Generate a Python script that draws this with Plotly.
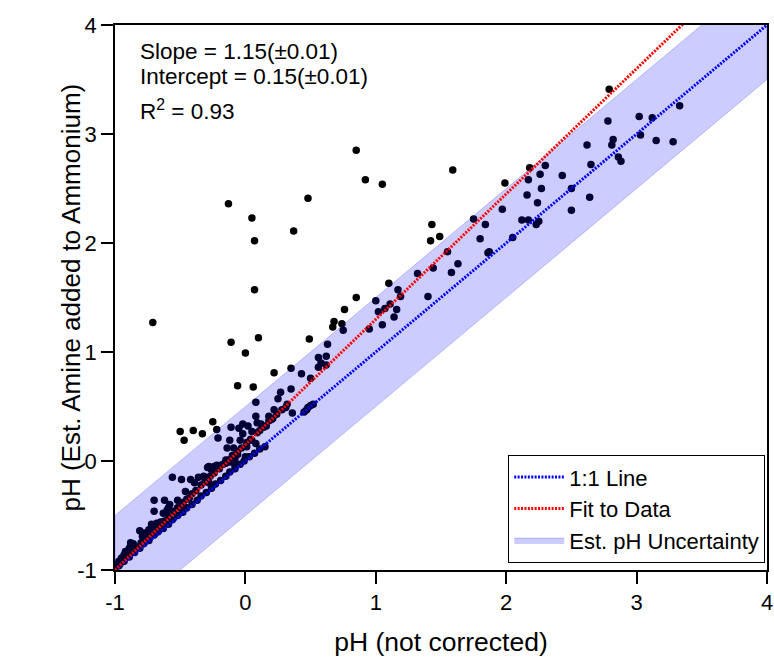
import plotly.graph_objects as go

# ---------------- data ----------------
# outliers and upper scatter
X_UPPER = [-0.71, -0.13, 0.05, 0.07, 0.07, 0.10, 0.48, 0.37, 0.85, 0.92, 1.05, 1.59,
           0.49, -0.11, 0.00, 0.35, 0.22, 0.43, 0.50, -0.06, 0.06, 0.27, 0.35, 0.08,
           0.25, 0.22, 0.36, 0.18, 0.08, 0.12, 0.09, 0.16, 0.18, 0.21, -0.02, -0.11,
           -0.05, 0.02, -0.02, 0.05, 0.09, -0.21, -0.22, -0.25, -0.40, -0.33, -0.47,
           -0.50, -0.12, -0.04, 0.05, 0.08, 0.15, 0.01, -0.09, -0.14, -0.06, 0.00,
           -0.15, -0.12, -0.08, -0.28, -0.24, -0.19, 0.31, 0.47, 0.50, 0.52]
Y_UPPER = [1.27, 2.36, 2.23, 2.02, 1.57, 1.13, 2.41, 2.11, 2.85, 2.58, 2.54, 2.67,
           1.12, 1.09, 0.99, 0.85, 0.81, 0.80, 0.76, 0.69, 0.68, 0.63, 0.66, 0.54,
           0.57, 0.47, 0.44, 0.41, 0.41, 0.34, 0.35, 0.32, 0.37, 0.39, 0.34, 0.31,
           0.30, 0.32, 0.25, 0.27, 0.26, 0.21, 0.29, 0.36, 0.28, 0.25, 0.19,
           0.27, 0.19, 0.19, 0.19, 0.16, 0.13, 0.13, 0.12, 0.12, 0.06, 0.04,
           0.01, -0.01, -0.04, -0.05, -0.05, -0.04, 0.49, 0.47, 0.51, 0.52]

# middle / upper-right cluster
X_MID = [0.56, 0.58, 0.56, 0.62, 0.63, 0.62, 0.67, 0.68, 0.74, 0.75, 0.76, 0.85,
         0.95, 1.00, 1.02, 1.07, 1.11, 1.16, 1.14, 1.05, 1.10, 1.17, 1.19, 1.40,
         1.32, 1.44, 1.58, 1.63, 1.55, 1.86, 1.87, 1.42, 1.49, 1.43, 1.80, 2.05,
         1.75, 1.84, 2.12, 2.17, 2.23, 2.25, 1.97, 2.24, 2.16, 2.27, 2.17, 2.26,
         2.18, 2.30, 1.99, 2.43, 2.50, 2.64, 2.50, 2.65, 2.62, 2.86, 2.88, 2.81,
         2.82, 3.03, 3.15, 3.28, 3.02, 3.12, 3.33, 2.78, 2.79]
Y_MID = [0.86, 0.90, 0.95, 0.96, 1.07, 0.88, 1.23, 1.28, 1.26, 1.20, 1.39, 1.50,
         1.21, 1.47, 1.37, 1.40, 1.44, 1.39, 1.32, 1.25, 1.63, 1.57, 1.51, 1.51,
         1.72, 1.77, 1.73, 1.81, 1.92, 1.91, 1.92, 2.02, 2.06, 2.17, 2.04, 2.05,
         2.22, 2.17, 2.21, 2.21, 2.17, 2.20, 2.31, 2.37, 2.44, 2.50, 2.58, 2.63,
         2.69, 2.71, 2.55, 2.62, 2.50, 2.42, 2.30, 2.72, 2.90, 2.79, 2.75, 2.90,
         2.95, 2.99, 2.94, 2.93, 3.16, 3.15, 3.26, 3.12, 3.41]

# lower-left cluster above the lines
X_LOW = [-0.56, -0.49, -0.42, -0.39, -0.36, -0.32, -0.30, -0.28, -0.29, -0.26, -0.22,
         -0.15, -0.08, -0.46, -0.43, -0.52, -0.50, -0.47, -0.70, -0.62, -0.70, -0.63,
         -0.59, -0.60, -0.58, -0.65, -0.68, -0.72, -0.74, -0.81, -0.77, -0.79, -0.86,
         -0.88, -0.89, -0.88, -0.92, -0.93, -0.95, -0.97, -0.98, -1.00]
Y_LOW = [-0.15, -0.17, -0.17, -0.20, -0.15, -0.14, -0.17, -0.20, -0.06, -0.08, -0.04,
         -0.02, 0.02, -0.28, -0.34, -0.36, -0.40, -0.42, -0.36, -0.36, -0.46, -0.48,
         -0.43, -0.45, -0.40, -0.56, -0.57, -0.58, -0.63, -0.64, -0.66, -0.69, -0.76,
         -0.77, -0.80, -0.75, -0.83, -0.86, -0.89, -0.92, -0.95, -0.99]

# points lying along the fitted line
X_ALONG_FIT = [-0.96, -0.91, -0.87, -0.83, -0.80, -0.76, -0.73, -0.69, -0.66, -0.62,
               -0.59, -0.55, -0.52, -0.48, -0.45, -0.41, -0.38, -0.34, -0.31, -0.27,
               -0.24, -0.20, -0.17, -0.13, -0.10, -0.06, -0.03, 0.01, 0.04, 0.11,
               0.14, 0.20, 0.24, 0.28, 0.32]
Y_ALONG_FIT = [-0.94, -0.88, -0.83, -0.79, -0.75, -0.71, -0.67, -0.62, -0.59, -0.55,
               -0.51, -0.46, -0.43, -0.38, -0.35, -0.30, -0.27, -0.22, -0.19, -0.14,
               -0.11, -0.07, -0.03, 0.01, 0.05, 0.09, 0.12, 0.17, 0.20, 0.28,
               0.31, 0.38, 0.43, 0.47, 0.52]

# points lying along the 1:1 line
X_ALONG_ONE = [-0.97, -0.93, -0.89, -0.85, -0.81, -0.78, -0.74, -0.70, -0.67, -0.63,
               -0.59, -0.56, -0.52, -0.48, -0.45, -0.41, -0.37, -0.34, -0.30, -0.26,
               -0.23, -0.19, -0.15, -0.12, -0.08, -0.04, -0.01, 0.03, 0.07, 0.11,
               0.45, 0.48]
Y_ALONG_ONE = [-0.96, -0.92, -0.88, -0.84, -0.80, -0.76, -0.73, -0.68, -0.65, -0.62,
               -0.58, -0.54, -0.50, -0.47, -0.43, -0.40, -0.36, -0.32, -0.29, -0.25,
               -0.21, -0.18, -0.14, -0.10, -0.07, -0.03, 0.00, 0.04, 0.07, 0.11,
               0.45, 0.49]

LINE_X = [-1, 4]
FIT_SLOPE = 1.15
FIT_INTERCEPT = 0.15
UNCERTAINTY = 0.5

TICK_VALS = [-1, 0, 1, 2, 3, 4]
TICK_TEXT = ["-1", "0", "1", "2", "3", "4"]

# ---------------- figure ----------------
px_x = X_UPPER + X_MID + X_LOW + X_ALONG_FIT + X_ALONG_ONE
px_y = Y_UPPER + Y_MID + Y_LOW + Y_ALONG_FIT + Y_ALONG_ONE

FONT = "Liberation Sans, Arial, sans-serif"

fig = go.Figure()

fig.add_trace(go.Scatter(
    x=px_x, y=px_y, mode="markers",
    marker=dict(color="black", size=7.5, line=dict(width=0)),
    showlegend=False, cliponaxis=True))

band_x = [LINE_X[0], LINE_X[1], LINE_X[1], LINE_X[0], LINE_X[0]]
band_y = [LINE_X[0] - UNCERTAINTY, LINE_X[1] - UNCERTAINTY,
          LINE_X[1] + UNCERTAINTY, LINE_X[0] + UNCERTAINTY, LINE_X[0] - UNCERTAINTY]
fig.add_trace(go.Scatter(
    x=band_x, y=band_y, mode="lines", fill="toself",
    fillcolor="rgba(0,0,255,0.2)",
    line=dict(color="rgba(0,0,255,0.2)", width=1),
    name="Est. pH Uncertainty", legendrank=3))

fig.add_trace(go.Scatter(
    x=LINE_X, y=LINE_X, mode="lines",
    line=dict(color="rgb(0,0,255)", width=3, dash="2px,1.4px"),
    name="1:1 Line", legendrank=1))

fig.add_trace(go.Scatter(
    x=LINE_X, y=[FIT_SLOPE * v + FIT_INTERCEPT for v in LINE_X], mode="lines",
    line=dict(color="rgb(255,0,0)", width=3, dash="2px,1.4px"),
    name="Fit to Data", legendrank=2))

axis_common = dict(
    range=[-1, 4], tickvals=TICK_VALS, ticktext=TICK_TEXT,
    ticks="outside", ticklen=12, tickwidth=1.5, tickcolor="black",
    showline=True, linecolor="black", linewidth=1.5, mirror=True,
    showgrid=False, zeroline=False, automargin=False,
    tickfont=dict(family=FONT, size=22, color="black"),
)

fig.update_xaxes(**axis_common,
                 title=dict(text="pH (not corrected)", standoff=18,
                            font=dict(family=FONT, size=26.5, color="black")))
fig.update_yaxes(**axis_common)

# y-axis title placed as a rotated annotation
fig.add_annotation(text="pH (Est. Amine added to Ammonium)", xref="paper", yref="paper",
                   x=-0.069, y=0.5, xanchor="center", yanchor="middle", textangle=-90,
                   showarrow=False, font=dict(family=FONT, size=26, color="black"))

ann_font = dict(family=FONT, size=22.5, color="black")
fig.add_annotation(text="Slope = 1.15(±0.01)", xref="paper", yref="paper",
                   x=0.036, y=0.951, xanchor="left", yanchor="middle",
                   showarrow=False, font=ann_font)
fig.add_annotation(text="Intercept = 0.15(±0.01)", xref="paper", yref="paper",
                   x=0.036, y=0.9046, xanchor="left", yanchor="middle",
                   showarrow=False, font=ann_font)
fig.add_annotation(text="R<sup>2</sup> = 0.93", xref="paper", yref="paper",
                   x=0.036, y=0.815, xanchor="left", yanchor="bottom",
                   showarrow=False, font=ann_font)

fig.update_layout(
    width=774, height=662,
    margin=dict(l=114.5, r=7, t=25, b=92),
    plot_bgcolor="white", paper_bgcolor="white",
    font=dict(family=FONT, color="black"),
    legend=dict(x=0.997, y=0.013, xanchor="right", yanchor="bottom",
                bgcolor="white", bordercolor="black", borderwidth=1.2,
                font=dict(family=FONT, size=22, color="black"),
                tracegroupgap=0, itemwidth=50),
    showlegend=True,
)

fig.write_html(
    "out.html",
    config={"displayModeBar": False},
    post_script="document.body.style.margin='0';document.body.style.overflow='hidden';",
)
